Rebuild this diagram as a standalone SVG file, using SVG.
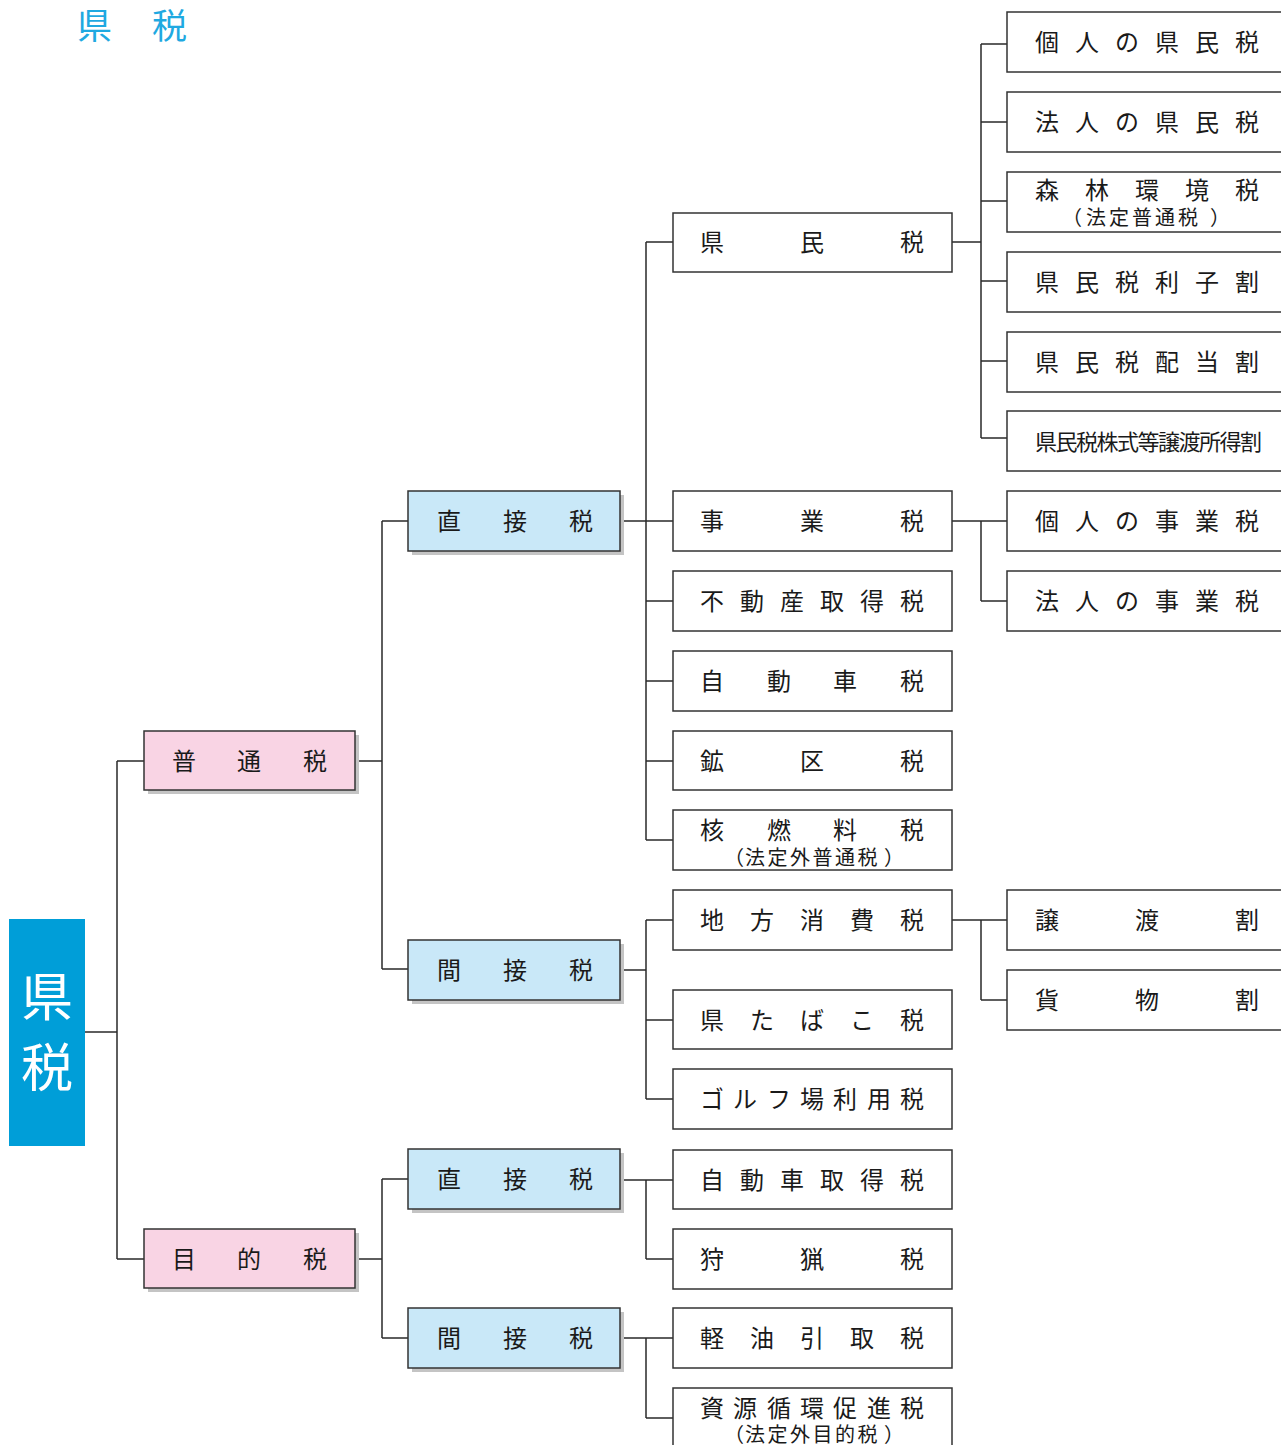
<svg xmlns="http://www.w3.org/2000/svg" width="1281" height="1445" viewBox="0 0 1281 1445">
<style>
text{font-family:"Noto Sans CJK JP","Noto Sans CJK SC",sans-serif;fill:#1a1a1a;}
.t{font-size:24px;}
.s{font-size:20px;}
.w{fill:#fff;stroke:#333;stroke-width:1.5;}
.p{fill:#f9d4e4;stroke:#333;stroke-width:1.5;}
.b{fill:#c9e8f8;stroke:#333;stroke-width:1.5;}
.sh{fill:#c4c4c4;}
#connectors path{fill:none;stroke:#2a2a2a;stroke-width:1.5;}
</style>
<rect width="1281" height="1445" fill="#fff"/>
<g id="title"><text x="77" y="39" style="font-size:35px;fill:#1fa9e1">県</text><text x="152" y="39" style="font-size:35px;fill:#1fa9e1">税</text></g>
<g id="connectors">
<path d="M85 1032H117M117 761V1259M117 761H144M117 1259H144"/>
<path d="M355 761H382M382 521V969M382 521H408M382 969H408"/>
<path d="M355 1259H382M382 1179V1338M382 1179H408M382 1338H408"/>
<path d="M620 521H673M646 242V840M646 242H673M646 601H673M646 681H673M646 761H673M646 840H673"/>
<path d="M620 970H646M646 920V1099M646 920H673M646 1020H673M646 1099H673"/>
<path d="M620 1180H673M646 1180V1259M646 1259H673"/>
<path d="M620 1338H673M646 1338V1418M646 1418H673"/>
<path d="M952 242H981M981 44V438M981 44H1007M981 122H1007M981 201H1007M981 281H1007M981 361H1007M981 438H1007"/>
<path d="M952 521H1007M981 521V601M981 601H1007"/>
<path d="M952 920H1007M981 920V1000M981 1000H1007"/>
</g>
<g id="root"><rect x="9" y="919" width="76" height="227" fill="#009ed8"/><text x="47" y="1016" style="font-size:52px;fill:#fff;text-anchor:middle">県</text><text x="47" y="1087" style="font-size:52px;fill:#fff;text-anchor:middle">税</text></g>
<g id="futsu"><rect class="sh" x="148" y="735" width="211" height="59"/><rect class="p" x="144" y="731" width="211" height="59"/><text class="t" x="172 237 303" y="770">普通税</text></g>
<g id="mokuteki"><rect class="sh" x="148" y="1233" width="211" height="59"/><rect class="p" x="144" y="1229" width="211" height="59"/><text class="t" x="172 237 303" y="1268">目的税</text></g>
<g id="chokusetsu1"><rect class="sh" x="412" y="495" width="212" height="60"/><rect class="b" x="408" y="491" width="212" height="60"/><text class="t" x="437 503 569" y="530">直接税</text></g>
<g id="kansetsu1"><rect class="sh" x="412" y="944" width="212" height="60"/><rect class="b" x="408" y="940" width="212" height="60"/><text class="t" x="437 503 569" y="979">間接税</text></g>
<g id="chokusetsu2"><rect class="sh" x="412" y="1153" width="212" height="60"/><rect class="b" x="408" y="1149" width="212" height="60"/><text class="t" x="437 503 569" y="1188">直接税</text></g>
<g id="kansetsu2"><rect class="sh" x="412" y="1312" width="212" height="60"/><rect class="b" x="408" y="1308" width="212" height="60"/><text class="t" x="437 503 569" y="1347">間接税</text></g>
<g id="kenminzei"><rect class="w" x="673" y="213" width="279" height="59"/><text class="t" x="700 800 900" y="251">県民税</text></g>
<g id="jigyouzei"><rect class="w" x="673" y="491" width="279" height="60"/><text class="t" x="700 800 900" y="530">事業税</text></g>
<g id="fudousan"><rect class="w" x="673" y="571" width="279" height="60"/><text class="t" x="700 740 780 820 860 900" y="610">不動産取得税</text></g>
<g id="jidousha"><rect class="w" x="673" y="651" width="279" height="60"/><text class="t" x="700 767 833 900" y="690">自動車税</text></g>
<g id="koukuzei"><rect class="w" x="673" y="731" width="279" height="59"/><text class="t" x="700 800 900" y="770">鉱区税</text></g>
<g id="kakunenryou"><rect class="w" x="673" y="810" width="279" height="60"/><text class="t" x="700 767 833 900" y="839">核燃料税</text><text class="s" x="724 745 767.5 790 812.5 835 857.5 884" y="865">（法定外普通税）</text></g>
<g id="chihoushouhi"><rect class="w" x="673" y="890" width="279" height="60"/><text class="t" x="700 750 800 850 900" y="929">地方消費税</text></g>
<g id="tabako"><rect class="w" x="673" y="990" width="279" height="59"/><text class="t" x="700 750 800 850 900" y="1029">県たばこ税</text></g>
<g id="golf"><rect class="w" x="673" y="1069" width="279" height="60"/><text class="t" x="700 733 767 800 833 867 900" y="1108">ゴルフ場利用税</text></g>
<g id="jidoushashutoku"><rect class="w" x="673" y="1150" width="279" height="59"/><text class="t" x="700 740 780 820 860 900" y="1189">自動車取得税</text></g>
<g id="shuryou"><rect class="w" x="673" y="1229" width="279" height="60"/><text class="t" x="700 800 900" y="1268">狩猟税</text></g>
<g id="keiyu"><rect class="w" x="673" y="1308" width="279" height="60"/><text class="t" x="700 750 800 850 900" y="1347">軽油引取税</text></g>
<g id="shigen"><rect class="w" x="673" y="1388" width="279" height="70"/><text class="t" x="700 733 767 800 833 867 900" y="1417">資源循環促進税</text><text class="s" x="724 745 767.5 790 812.5 835 857.5 884" y="1442">（法定外目的税）</text></g>
<g id="kojin-kenmin"><rect class="w" x="1007" y="12" width="290" height="60"/><text class="t" x="1035 1075 1115 1155 1195 1235" y="51">個人の県民税</text></g>
<g id="houjin-kenmin"><rect class="w" x="1007" y="92" width="290" height="60"/><text class="t" x="1035 1075 1115 1155 1195 1235" y="131">法人の県民税</text></g>
<g id="shinrin"><rect class="w" x="1007" y="172" width="290" height="60"/><text class="t" x="1035 1085 1135 1185 1235" y="199">森林環境税</text><text class="s" x="1062 1086 1109 1132 1155 1178 1210" y="225">（法定普通税）</text></g>
<g id="rishiwari"><rect class="w" x="1007" y="252" width="290" height="60"/><text class="t" x="1035 1075 1115 1155 1195 1235" y="291">県民税利子割</text></g>
<g id="haitouwari"><rect class="w" x="1007" y="332" width="290" height="60"/><text class="t" x="1035 1075 1115 1155 1195 1235" y="371">県民税配当割</text></g>
<g id="kabushiki"><rect class="w" x="1007" y="411" width="290" height="60"/><text x="1035 1055.5 1076 1096.5 1117 1137.5 1158 1178.5 1199 1219.5 1240" y="450" style="font-size:22px">県民税株式等譲渡所得割</text></g>
<g id="kojin-jigyou"><rect class="w" x="1007" y="491" width="290" height="60"/><text class="t" x="1035 1075 1115 1155 1195 1235" y="530">個人の事業税</text></g>
<g id="houjin-jigyou"><rect class="w" x="1007" y="571" width="290" height="60"/><text class="t" x="1035 1075 1115 1155 1195 1235" y="610">法人の事業税</text></g>
<g id="jouto"><rect class="w" x="1007" y="890" width="290" height="60"/><text class="t" x="1035 1135 1235" y="929">譲渡割</text></g>
<g id="kamotsu"><rect class="w" x="1007" y="970" width="290" height="60"/><text class="t" x="1035 1135 1235" y="1009">貨物割</text></g>
</svg>
